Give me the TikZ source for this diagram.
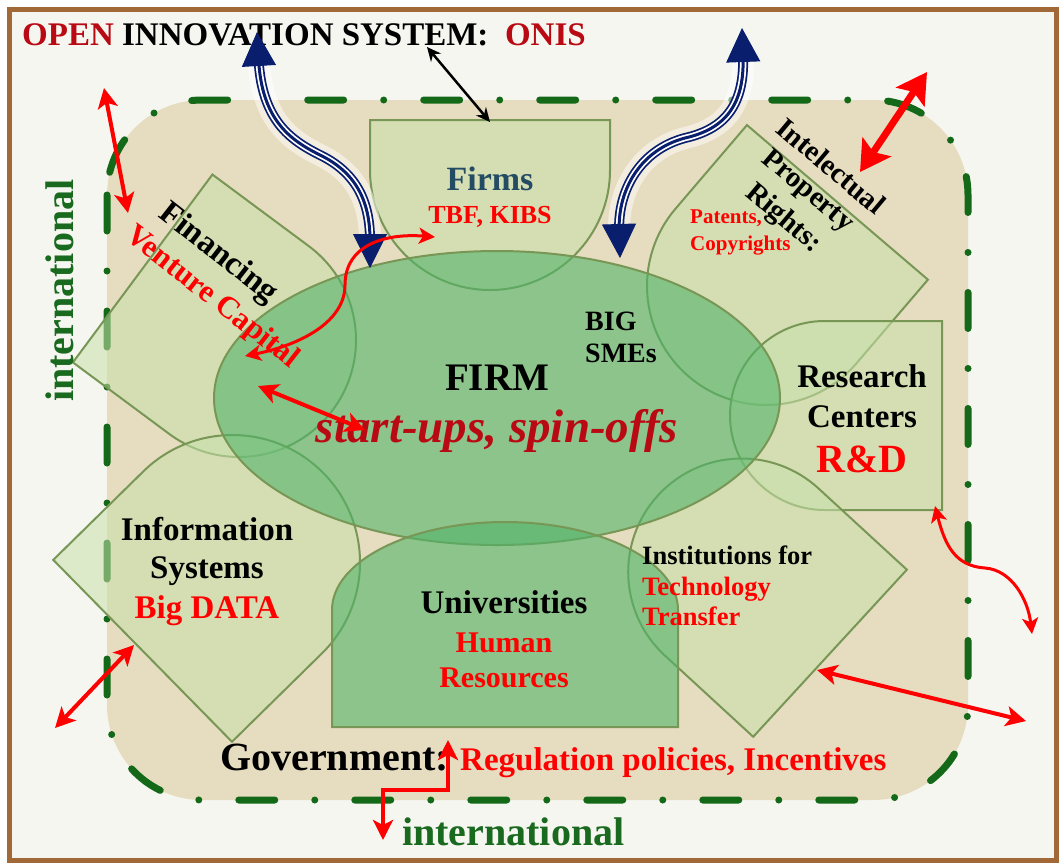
\documentclass[tikz,border=0pt]{standalone}
\usepackage{fontspec}
\setmainfont{Liberation Serif}
\usetikzlibrary{arrows.meta}

\definecolor{framebrown}{RGB}{160,105,55}
\definecolor{paper}{RGB}{246,246,241}
\definecolor{beige}{RGB}{230,220,192}
\definecolor{dashgreen}{RGB}{20,105,25}
\definecolor{edgegreen}{RGB}{120,150,85}
\definecolor{lightleaf}{RGB}{200,225,170}
\definecolor{firmgreen}{RGB}{80,180,105}
\definecolor{navyarrow}{RGB}{10,30,110}
\definecolor{onisred}{RGB}{185,10,20}
\definecolor{firmsblue}{RGB}{35,75,100}
\definecolor{intlgreen}{RGB}{25,105,30}

% one partner of the system: flat side, straight flanks, round end
\newcommand{\leafpath}[5]{%
  \draw[leaf, shift={(#1,#2)}, rotate=#3] (-#4,0) -- (-#4,-#5) -- (#4,-#5) -- (#4,0)
    arc[start angle=0, end angle=180, radius=#4] -- cycle;}

\begin{document}
\begin{tikzpicture}[x=1pt, y=-1pt,
  leaf/.style={draw=edgegreen, line width=2pt, fill=lightleaf, fill opacity=0.55},
  core/.style={draw=edgegreen, line width=2pt, fill=firmgreen, fill opacity=0.6},
  txt/.style={inner sep=0pt, align=center},
  sz/.style 2 args={font=\fontsize{#1}{#2}\selectfont\bfseries},
  redarrow/.style={red, line width=4pt, {Stealth[length=20pt,width=20pt,inset=5pt]}-{Stealth[length=20pt,width=20pt,inset=5pt]}},
  thinredarrow/.style={red, line width=3pt, {Stealth[length=16pt,width=16pt,inset=4pt]}-{Stealth[length=16pt,width=16pt,inset=4pt]}},
  bigredarrow/.style={red, line width=7pt, {Stealth[length=30pt,width=34pt,inset=6pt]}-{Stealth[length=30pt,width=34pt,inset=6pt]}},
  blackarrow/.style={black, line width=2.5pt, {Stealth[length=14pt,width=13pt]}-{Stealth[length=14pt,width=13pt]}},
  waveshaft/.style={navyarrow, line width=10pt, shorten <=28pt, shorten >=28pt,
    preaction={draw=white, draw opacity=0.5, line width=22pt},
    postaction={draw=white, line width=6.5pt},
    postaction={draw=navyarrow, line width=3pt}},
  wavetip/.style={navyarrow, line width=1pt, {Triangle[length=34pt,width=34pt]}-{Triangle[length=34pt,width=34pt]}}
]
\useasboundingbox (0,0) rectangle (1064,863);
\fill[white] (0,0) rectangle (1064,863);
\draw[framebrown, line width=5pt, fill=paper] (9.5,9.5) rectangle (1056.5,860);

% system field
\draw[fill=beige, draw=dashgreen, line width=7pt, line cap=round,
  dash pattern=on 36pt off 40pt on 0pt off 40pt, rounded corners=95pt]
  (107,100) rectangle (968,800);

% partners
\leafpath{239}{340}{53.4}{117}{120}
\leafpath{490}{170}{0}{120}{50}
\leafpath{766}{286}{-40.5}{119}{110}
\leafpath{824.5}{415.5}{-90}{94.5}{117.5}
\leafpath{741.7}{572}{-132.6}{113.5}{120}
\leafpath{232.5}{562.5}{134.5}{127.5}{126}

% firm and universities
\draw[core] (497,398) ellipse [x radius=283, y radius=147];
\draw[core] (332,727) -- (332,610) arc[start angle=180, end angle=360, x radius=173, y radius=88]
  -- (678,727) -- cycle;

% texts
\node[txt, sz={33}{40}, anchor=base west] (title) at (22,45)
  {\textcolor{onisred}{OPEN} INNOVATION SYSTEM:\ \ \textcolor{onisred}{ONIS}};
\node[txt, sz={40}{48}, text=intlgreen, rotate=90, anchor=base west] (intlwest) at (73,402) {international};
\node[txt, sz={40}{48}, text=intlgreen, anchor=base west] (intlsouth) at (402,845) {international};
\node[txt, sz={40}{48}, anchor=base west] (gov) at (220,770) {Government:};
\node[txt, sz={33}{40}, text=red, anchor=base west] (regul) at (460,770) {Regulation policies, Incentives};

\node[txt, sz={34}{40}, text=firmsblue, anchor=base] (firms) at (490,190) {Firms};
\node[txt, sz={26}{30}, text=red, anchor=base] (tbf) at (490,223) {TBF, KIBS};

\node[txt, sz={39}{46}, anchor=base] (firm) at (497,390) {FIRM};
\node[txt, font=\fontsize{47}{56}\selectfont\bfseries\itshape, text=onisred, anchor=base] (startups) at (497,442) {start-ups, spin-offs};
\node[txt, sz={28}{32}, anchor=base west] (big) at (585,330) {BIG};
\node[txt, sz={28}{32}, anchor=base west] (smes) at (585,362) {SMEs};

\node[txt, sz={33}{40}, anchor=base] (research) at (862,387) {Research};
\node[txt, sz={33}{40}, anchor=base] (centers) at (862,427) {Centers};
\node[txt, sz={40}{48}, text=red, anchor=base] (rd) at (862,472) {R\&D};

\node[txt, sz={33}{40}, anchor=base] (information) at (207,540) {Information};
\node[txt, sz={33}{40}, anchor=base] (systems) at (207,578) {Systems};
\node[txt, sz={33}{40}, text=red, anchor=base] (bigdata) at (207,618) {Big DATA};

\node[txt, sz={33}{40}, anchor=base] (univ) at (504,613) {Universities};
\node[txt, sz={30}{36}, text=red, anchor=base] (human) at (504,652) {Human};
\node[txt, sz={30}{36}, text=red, anchor=base] (resources) at (504,687) {Resources};

\node[txt, sz={26.5}{30}, anchor=base west] (institutions) at (642,564) {Institutions for};
\node[txt, sz={26.5}{30}, text=red, anchor=base west] (technology) at (642,595) {Technology};
\node[txt, sz={26.5}{30}, text=red, anchor=base west] (transfer) at (642,625) {Transfer};

\node[txt, sz={21}{27}, text=red, anchor=base west] (patents) at (690,223) {Patents,};
\node[txt, sz={21}{27}, text=red, anchor=base west] (copyrights) at (690,250) {Copyrights};
\node[txt, sz={29}{36}, rotate=-40] (intelectual) at (831,166) {Intelectual};
\node[txt, sz={29}{36}, rotate=-40] (property) at (807,192) {Property};
\node[txt, sz={29}{36}, rotate=-40] (rights) at (783,219) {Rights:};

\node[txt, sz={33}{40}, rotate=-38] (financing) at (218,254) {Financing};
\node[txt, sz={31}{38}, text=red, rotate=-38] (venture) at (212,298) {Venture Capital};

% arrow ends
\coordinate (finUp) at (104,88);
\coordinate (finDown) at (128,213);
\coordinate (iprOut) at (927,72);
\coordinate (iprIn) at (860,172);
\coordinate (vcEnd) at (245,356);
\coordinate (tbfEnd) at (435,237);
\coordinate (coreA) at (258,386);
\coordinate (coreB) at (365,430);
\coordinate (rdCorner) at (935,506);
\coordinate (rdOut) at (1032,634);
\coordinate (ittIn) at (817,670);
\coordinate (ittOut) at (1026,721);
\coordinate (isIn) at (134,645);
\coordinate (isOut) at (55,728);
\coordinate (govIn) at (448,740);
\coordinate (govOut) at (383,840);
\coordinate (titleEnd) at (427,47);
\coordinate (firmsTop) at (490,122);
\coordinate (leftWaveTop) at (257,32);
\coordinate (leftWaveEnd) at (370,268);
\coordinate (rightWaveTop) at (742,28);
\coordinate (rightWaveEnd) at (620,258);

% links
\draw[waveshaft] (leftWaveTop) .. controls (262,120) and (290,140) .. (320,155)
  .. controls (355,172) and (370,200) .. (leftWaveEnd);
\draw[wavetip] (leftWaveTop) .. controls (262,120) and (290,140) .. (320,155)
  .. controls (355,172) and (370,200) .. (leftWaveEnd);
\draw[waveshaft] (rightWaveTop) .. controls (745,110) and (720,130) .. (685,138)
  .. controls (640,150) and (618,190) .. (rightWaveEnd);
\draw[wavetip] (rightWaveTop) .. controls (745,110) and (720,130) .. (685,138)
  .. controls (640,150) and (618,190) .. (rightWaveEnd);

\draw[blackarrow] (titleEnd) -- (firmsTop);
\draw[redarrow] (finUp) -- (finDown);
\draw[bigredarrow] (iprOut) -- (iprIn);
\draw[thinredarrow] (vcEnd) .. controls (300,345) and (345,322) .. (345,285)
  .. controls (345,245) and (385,233) .. (tbfEnd);
\draw[redarrow] (coreA) -- (coreB);
\draw[thinredarrow] (rdCorner) .. controls (945,545) and (955,566) .. (985,568)
  .. controls (1012,570) and (1028,600) .. (rdOut);
\draw[redarrow] (ittIn) -- (ittOut);
\draw[redarrow] (isIn) -- (isOut);
\draw[redarrow] (govIn) -- ++(0,50) -| (govOut);
\end{tikzpicture}
\end{document}
